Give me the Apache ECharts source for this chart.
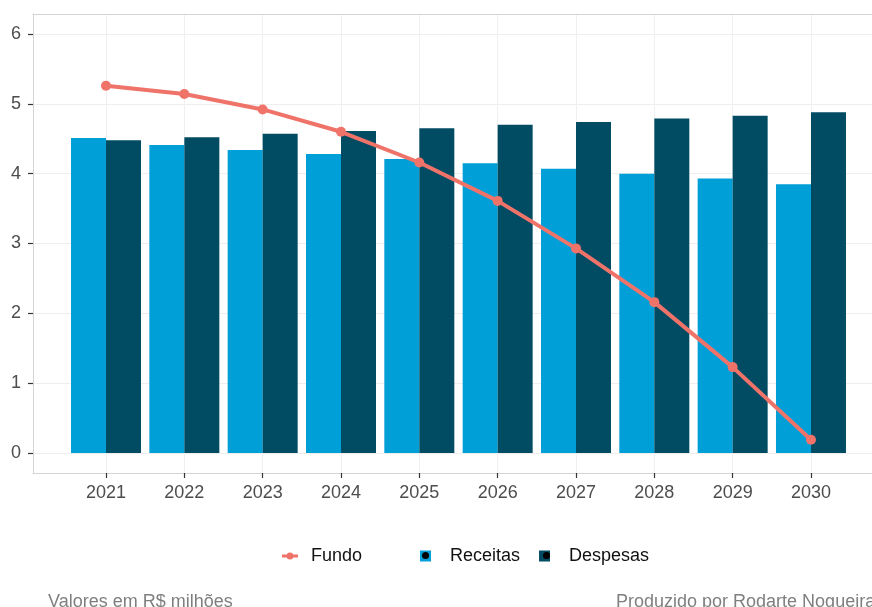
<!DOCTYPE html>
<html>
<head>
<meta charset="utf-8">
<script src="https://cdn.jsdelivr.net/npm/echarts@6/dist/echarts.min.js"></script>
<style>
  html, body { margin: 0; padding: 0; background: #fff; }
  #chart { width: 872px; height: 607px; }
</style>
</head>
<body>
<div id="chart"></div>
<script>
// dados (R$ milhões)
const anos = [2021, 2022, 2023, 2024, 2025, 2026, 2027, 2028, 2029, 2030]
const receitas = [4.51, 4.41, 4.34, 4.28, 4.21, 4.15, 4.07, 4.00, 3.93, 3.85]
const despesas = [4.48, 4.52, 4.57, 4.61, 4.65, 4.70, 4.74, 4.79, 4.83, 4.88]
const fundo = [5.26, 5.14, 4.92, 4.60, 4.16, 3.61, 2.93, 2.16, 1.23, 0.19]
const yTicks = [0, 1, 2, 3, 4, 5, 6]

const font = "'Liberation Sans', Arial, sans-serif"
const corReceitas = '#009fd8'
const corDespesas = '#014b63'
const corFundo = '#f0736a'
const corBorda = '#d4d4d4'

const pares = (xs, ys) => xs.map((x, i) => [x, ys[i]])

let chart = echarts.init(document.getElementById('chart'), null, { renderer: 'canvas' })

let option = {
    animation: false,
    backgroundColor: '#fff',
    textStyle: { fontFamily: font },
    grid: {
        left: 33,
        top: 14,
        right: 0,
        height: 459,
        show: true,
        borderWidth: 0,
        backgroundColor: '#fff',
        containLabel: false
    },
    xAxis: [
        {
            type: 'value',
            min: 2020.068,
            max: 2030.779,
            axisLine: { show: true, onZero: false, lineStyle: { color: corBorda, width: 1 } },
            axisTick: {
                show: true,
                length: 5,
                customValues: anos,
                lineStyle: { color: '#333', width: 1.2 }
            },
            axisLabel: {
                customValues: anos,
                margin: 11,
                fontSize: 18,
                color: '#4d4d4d',
                fontFamily: font,
                formatter: v => String(Math.round(v))
            },
            splitLine: { show: true, lineStyle: { color: '#f0f0f0', width: 1 } }
        },
        {
            // borda superior do painel
            type: 'value',
            position: 'top',
            min: 2020.068,
            max: 2030.779,
            axisLine: { show: true, onZero: false, lineStyle: { color: corBorda, width: 1 } },
            axisTick: { show: false },
            axisLabel: { show: false },
            splitLine: { show: false }
        }
    ],
    yAxis: {
        type: 'value',
        min: -0.2864,
        max: 6.2864,
        axisLine: { show: true, onZero: false, lineStyle: { color: corBorda, width: 1 } },
        axisTick: {
            show: true,
            length: 5,
            customValues: yTicks,
            lineStyle: { color: '#333', width: 1.2 }
        },
        axisLabel: {
            customValues: yTicks,
            margin: 12,
            fontSize: 18,
            color: '#4d4d4d',
            fontFamily: font
        },
        splitLine: { show: true, lineStyle: { color: '#eeeeee', width: 1 } }
    },
    legend: [
        {
            data: [{
                name: 'Fundo',
                icon: 'path://M0,3 L16,3 L16,6 L0,6 Z M4.5,4.5 A3.5,3.5 0 1,1 11.5,4.5 A3.5,3.5 0 1,1 4.5,4.5 Z'
            }],
            left: 277,
            top: 542,
            itemWidth: 16,
            itemHeight: 9,
            textStyle: { fontSize: 18, color: '#111', fontFamily: font, padding: [0, 0, 0, 8] }
        },
        {
            data: ['Receitas', 'Despesas'],
            icon: 'rect',
            left: 415,
            top: 542,
            itemWidth: 11,
            itemHeight: 11,
            itemGap: 19,
            textStyle: { fontSize: 18, color: '#111', fontFamily: font, padding: [0, 0, 0, 14] }
        }
    ],
    title: [
        {
            text: 'Valores em R$ milhões',
            left: 43,
            top: 588,
            textStyle: { fontSize: 18, fontWeight: 'normal', color: '#7f7f7f', fontFamily: font }
        },
        {
            text: 'Produzido por Rodarte Nogueira',
            left: 611,
            top: 588,
            textStyle: { fontSize: 18, fontWeight: 'normal', color: '#7f7f7f', fontFamily: font }
        }
    ],
    // ponto preto da chave de legenda (como no ggplot)
    graphic: [
        { type: 'circle', shape: { cx: 425.5, cy: 555.5, r: 3.5 }, style: { fill: '#000' }, z: 100 },
        { type: 'circle', shape: { cx: 546.5, cy: 555.5, r: 3.5 }, style: { fill: '#000' }, z: 100 }
    ],
    series: [
        {
            name: 'Receitas',
            type: 'bar',
            data: pares(anos, receitas),
            barWidth: 35,
            barGap: '0%',
            itemStyle: { color: corReceitas },
            z: 2
        },
        {
            name: 'Despesas',
            type: 'bar',
            data: pares(anos, despesas),
            barWidth: 35,
            barGap: '0%',
            itemStyle: { color: corDespesas },
            z: 2
        },
        {
            name: 'Fundo',
            type: 'line',
            data: pares(anos, fundo),
            symbol: 'circle',
            symbolSize: 10,
            lineStyle: { color: corFundo, width: 4 },
            itemStyle: { color: corFundo },
            z: 5
        }
    ]
}

chart.setOption(option)
</script>
</body>
</html>
